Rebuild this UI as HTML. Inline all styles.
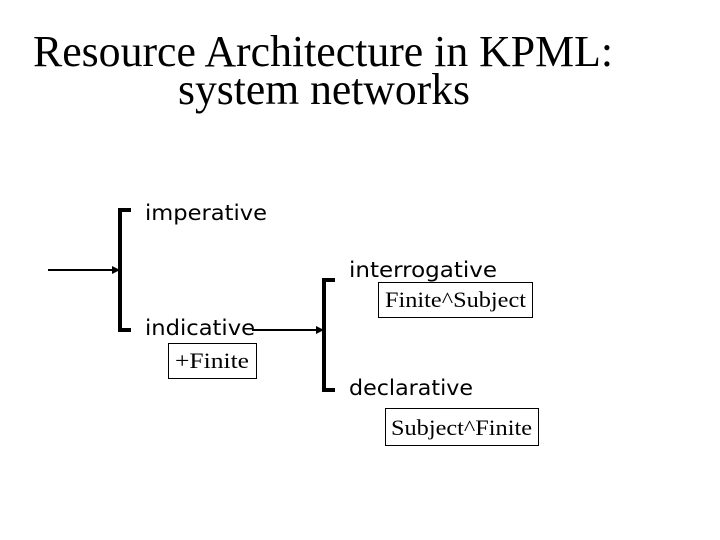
<!DOCTYPE html>
<html><head><style>body{margin:0;background:#fff}svg{display:block}</style></head>
<body>
<svg width="720" height="540" viewBox="0 0 720 540" xmlns="http://www.w3.org/2000/svg">
<rect width="720" height="540" fill="#fff"/>
<g font-family="Liberation Serif, serif" font-size="44" fill="#000">
<text x="33" y="66" textLength="580" lengthAdjust="spacingAndGlyphs">Resource Architecture in KPML:</text>
<text x="178" y="104" textLength="292" lengthAdjust="spacingAndGlyphs">system networks</text>
</g>
<g stroke="#000" fill="none">
<path d="M131 210 H120 V330 H131" stroke-width="4"/>
<path d="M335 280 H324 V390 H335" stroke-width="4"/>
<line x1="48" y1="270" x2="114" y2="270" stroke-width="2"/>
<line x1="252" y1="330" x2="318" y2="330" stroke-width="2"/>
</g>
<polygon points="120,270 112,266 112,274" fill="#000"/>
<polygon points="324,330 316,326 316,334" fill="#000"/>
<g font-family="DejaVu Sans, sans-serif" font-size="21" fill="#000">
<text x="145" y="220" textLength="122" lengthAdjust="spacingAndGlyphs">imperative</text>
<text x="349" y="277" textLength="148" lengthAdjust="spacingAndGlyphs">interrogative</text>
<text x="145" y="335" textLength="110" lengthAdjust="spacingAndGlyphs">indicative</text>
<text x="349" y="395" textLength="124" lengthAdjust="spacingAndGlyphs">declarative</text>
</g>
<g fill="none" stroke="#000" stroke-width="1">
<rect x="168.5" y="343.5" width="88" height="35"/>
<rect x="378.5" y="282.5" width="154" height="35"/>
<rect x="385.5" y="408.5" width="153" height="37"/>
</g>
<g font-family="Liberation Serif, serif" font-size="22" fill="#000">
<text x="175" y="368" textLength="74" lengthAdjust="spacingAndGlyphs">+Finite</text>
<text x="385" y="307" textLength="141" lengthAdjust="spacingAndGlyphs">Finite^Subject</text>
<text x="391" y="435" textLength="141" lengthAdjust="spacingAndGlyphs">Subject^Finite</text>
</g>
</svg>
</body></html>
